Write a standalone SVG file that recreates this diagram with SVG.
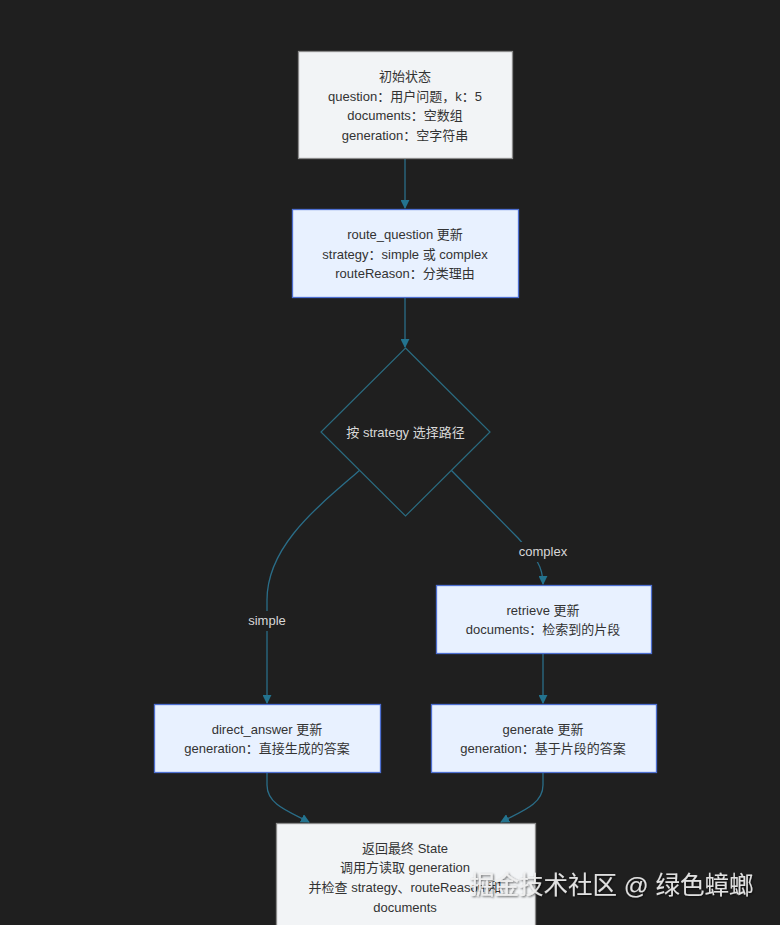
<svg xmlns="http://www.w3.org/2000/svg" width="780" height="925" viewBox="0 0 780 925">
<style>
text{font-family:"Liberation Sans","Noto Sans CJK SC",sans-serif;font-size:13px;fill:#333;text-anchor:middle}
.init{fill:#f2f4f6;stroke:#8a8a8a;stroke-width:1.3}
.upd{fill:#e8f1ff;stroke:#4d6fd1;stroke-width:1.3}
.dec{fill:#1f1f1f;stroke:#2a6b80;stroke-width:1.2}
.dec-t{fill:#d8d8d8}
.edge{fill:none;stroke:#2a6d88;stroke-width:1.3}
.lbl{fill:#d8d8d8}
.lblbg{fill:#1f1f1f}
.wm{font-size:24.5px;fill:#f2f2f2;fill-opacity:0.9;text-anchor:start}
</style>
<defs>
<marker id="arr" viewBox="0 0 10 10" refX="9" refY="5" markerWidth="9" markerHeight="9" markerUnits="userSpaceOnUse" orient="auto">
<path d="M0,0 L10,5 L0,10 z" fill="#23738f"/>
</marker>
<filter id="sh" x="-5%" y="-30%" width="110%" height="160%">
<feDropShadow dx="1" dy="1" stdDeviation="1" flood-color="#000" flood-opacity="0.7"/>
</filter>
</defs>
<rect width="780" height="925" fill="#1f1f1f"/>
<g id="connectors">
<path class="edge" d="M405,158 L405,208" marker-end="url(#arr)"/>
<path class="edge" d="M405,297 L405,347" marker-end="url(#arr)"/>
<path class="edge" d="M360,470 C320,505 267,545 267,600 L267,703" marker-end="url(#arr)"/>
<path class="edge" d="M451,470 L518,538 C530,552 543,562 543,584" marker-end="url(#arr)"/>
<path class="edge" d="M543,653 L543,703" marker-end="url(#arr)"/>
<path class="edge" d="M267,772 L267,785 C267,805 290,812 309,822" marker-end="url(#arr)"/>
<path class="edge" d="M543,772 L543,785 C543,805 520,812 501,822" marker-end="url(#arr)"/>
<rect class="lblbg" x="244" y="611" width="46" height="20"/>
<text class="lbl" x="267" y="625">simple</text>
<rect class="lblbg" x="516" y="542" width="55" height="20"/>
<text class="lbl" x="543" y="556">complex</text>
</g>
<g id="init">
<rect class="init" x="298.5" y="51.5" width="214" height="107"/>
<text x="405" y="81">初始状态</text>
<text x="405" y="101">question：用户问题，k：5</text>
<text x="405" y="120">documents：空数组</text>
<text x="405" y="140">generation：空字符串</text>
</g>
<g id="route_question">
<rect class="upd" x="292.5" y="209.5" width="226" height="88"/>
<text x="405" y="239">route_question 更新</text>
<text x="405" y="259">strategy：simple 或 complex</text>
<text x="405" y="278">routeReason：分类理由</text>
</g>
<g id="decide">
<polygon class="dec" points="405.5,348 490,432 405.5,516 321,432"/>
<text class="dec-t" x="405.5" y="437">按 strategy 选择路径</text>
</g>
<g id="retrieve">
<rect class="upd" x="436.5" y="585.5" width="215" height="68"/>
<text x="543" y="615">retrieve 更新</text>
<text x="543" y="634">documents：检索到的片段</text>
</g>
<g id="direct_answer">
<rect class="upd" x="154.5" y="704.5" width="226" height="68"/>
<text x="267" y="734">direct_answer 更新</text>
<text x="267" y="753">generation：直接生成的答案</text>
</g>
<g id="generate">
<rect class="upd" x="431.5" y="704.5" width="225" height="68"/>
<text x="543" y="734">generate 更新</text>
<text x="543" y="753">generation：基于片段的答案</text>
</g>
<g id="final">
<rect class="init" x="276.5" y="823.5" width="259" height="110"/>
<text x="405" y="853">返回最终 State</text>
<text x="405" y="872">调用方读取 generation</text>
<text x="405" y="892">并检查 strategy、routeReason 和</text>
<text x="405" y="912">documents</text>
</g>
<text class="wm" x="470" y="894" filter="url(#sh)">掘金技术社区 @ 绿色蟑螂</text>
</svg>
